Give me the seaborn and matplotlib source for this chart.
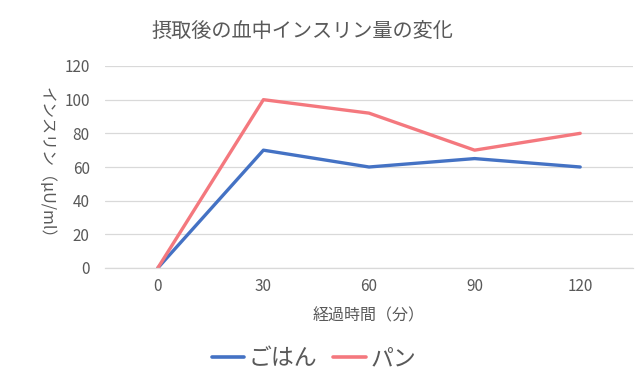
import matplotlib
matplotlib.use("Agg")
import matplotlib.pyplot as plt
import seaborn as sns
import pandas as pd
from matplotlib.lines import Line2D

times = ["0", "30", "60", "90", "120"]
rice = [0, 70, 60, 65, 60]
bread = [0, 100, 92, 70, 80]
series_names = ["ごはん", "パン"]
title = "摂取後の血中インスリン量の変化"
xlabel = "経過時間（分）"
ylabel = "インスリン（µU/ml）"
yticks = [0, 20, 40, 60, 80, 100, 120]

sns.set_theme(style="white")
plt.rcParams['font.family'] = ['Noto Sans CJK JP', 'DejaVu Sans']

df = pd.DataFrame({
    "time": times * 2,
    "value": rice + bread,
    "series": [series_names[0]] * len(times) + [series_names[1]] * len(times),
})

text_color = "#595959"
palette = {series_names[0]: "#4472C4", series_names[1]: "#F4787E"}

fig = plt.figure(figsize=(6.4, 3.82), dpi=100)
ax = fig.add_axes([105 / 640, 1 - 268 / 382, 528 / 640, 202 / 382])

sns.lineplot(data=df, x="time", y="value", hue="series", palette=palette,
             linewidth=2.4, ax=ax, sort=False, legend=False)

ax.set_xlim(-0.5, 4.5)
ax.set_ylim(0, 120)
ax.set_yticks(yticks)
ax.set_yticklabels([str(v) for v in yticks])
ax.yaxis.grid(True, color="#D9D9D9", linewidth=0.9)
ax.set_axisbelow(True)
for s in ["top", "right", "left"]:
    ax.spines[s].set_visible(False)
ax.spines["bottom"].set_color("#D9D9D9")
ax.spines["bottom"].set_linewidth(0.9)
ax.tick_params(axis="x", length=0, labelsize=11, labelcolor=text_color, pad=7)
ax.tick_params(axis="y", length=0, labelsize=11, labelcolor=text_color, pad=11)

ax.set_xlabel(xlabel, fontsize=11.5, color=text_color, labelpad=9)
ax.set_ylabel(ylabel, fontsize=11.5, color=text_color, rotation=270, va="center")
ax.yaxis.set_label_coords(-0.112, 0.5)

fig.text(302 / 640, 1 - 31 / 382, title, fontsize=14.5, color=text_color,
         ha="center", va="center")

handles = [Line2D([0], [0], color=palette[n], linewidth=2.6) for n in series_names]
leg = fig.legend(handles, series_names, loc="center", bbox_to_anchor=(314 / 640, 1 - 359 / 382),
                 ncol=2, frameon=False, fontsize=16.5, handlelength=1.4,
                 handletextpad=0.2, columnspacing=0.7)
for t in leg.get_texts():
    t.set_color(text_color)

fig.savefig("out.png", dpi=100)
